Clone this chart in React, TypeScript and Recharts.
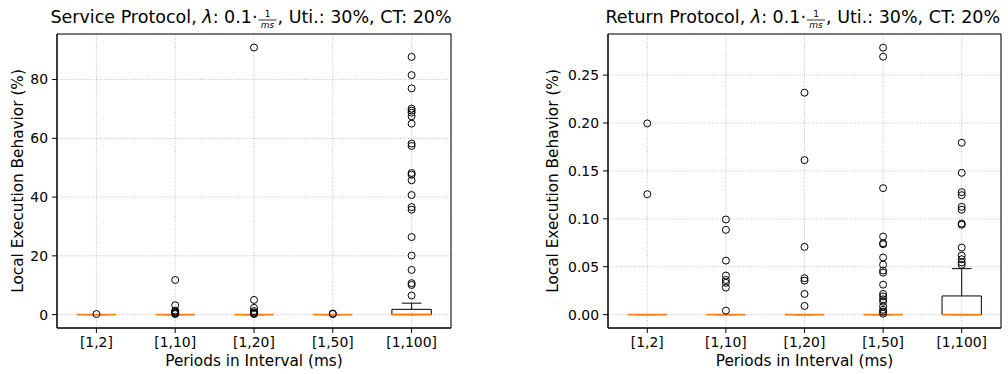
import React from 'react';
import {
  ComposedChart,
  Scatter,
  XAxis,
  YAxis,
  CartesianGrid,
  ReferenceArea,
  ReferenceLine,
  Label,
} from 'recharts';

const categories = ['[1,2]', '[1,10]', '[1,20]', '[1,50]', '[1,100]'];

// Service protocol boxes
const serviceQ1 = [0, 0, 0, 0, 0];
const serviceMedian = [0, 0, 0, 0, 0.1];
const serviceQ3 = [0, 0, 0, 0, 1.8];
const serviceLow = [0, 0, 0, 0, 0];
const serviceHigh = [0, 0, 0, 0, 3.9];
const serviceOutliers = [
  [0.2],
  [11.8, 3.2, 1.4, 1.0, 0.7, 0.4, 0.2],
  [90.9, 5.0, 2.3, 1.2, 0.7, 0.4, 0.2],
  [0.4, 0.2],
  [87.7, 81.5, 77.0, 70.1, 69.4, 68.7, 67.5, 65.0, 58.2, 57.4, 48.2, 47.6, 45.7, 40.7, 36.6, 35.7, 26.4, 20.1, 15.2, 10.7, 10.1, 6.5],
];

// Return protocol boxes
const returnQ1 = [0, 0, 0, 0, 0];
const returnMedian = [0, 0, 0, 0, 0];
const returnQ3 = [0, 0, 0, 0, 0.0195];
const returnLow = [0, 0, 0, 0, 0];
const returnHigh = [0, 0, 0, 0, 0.048];
const returnOutliers = [
  [0.1996, 0.1257],
  [0.0993, 0.0885, 0.0564, 0.0408, 0.0362, 0.0332, 0.0282, 0.0042],
  [0.2316, 0.1613, 0.0707, 0.038, 0.0355, 0.0216, 0.0091],
  [0.2786, 0.2692, 0.132, 0.0815, 0.0745, 0.0735, 0.0596, 0.0522, 0.046, 0.0438, 0.0313, 0.0216, 0.019, 0.016, 0.0135, 0.0085, 0.005, 0.003, 0.001],
  [0.1794, 0.148, 0.1278, 0.1247, 0.1125, 0.1095, 0.0951, 0.0938, 0.07, 0.0617, 0.0578, 0.0545, 0.052],
];

const serviceTicks = [0, 20, 40, 60, 80];
const returnTicks = [0, 0.05, 0.1, 0.15, 0.2, 0.25];

const FONT = 'DejaVu Sans, sans-serif';

type PanelProps = {
  q1: number[];
  med: number[];
  q3: number[];
  lo: number[];
  hi: number[];
  outliers: number[][];
  yDomain: [number, number];
  yTicks: number[];
  fmt: (v: number) => string;
  yAxisWidth: number;
  marginRight: number;
  labelDx: number;
};

const Circle = (props: any) => (
  <circle cx={props.cx} cy={props.cy} r={3.5} fill="none" stroke="#000" strokeWidth={1} />
);

function BoxPanel(p: PanelProps) {
  const points = p.outliers.flatMap((vals, i) => vals.map((v) => ({ x: i + 1, y: v })));
  return (
    <ComposedChart
      width={504}
      height={374}
      margin={{ top: 34, right: p.marginRight, bottom: 0, left: 0 }}
    >
      <CartesianGrid stroke="#b0b0b0" strokeDasharray="1 1.6" strokeWidth={0.8} />
      <XAxis
        dataKey="x"
        type="number"
        domain={[0.5, 5.5]}
        ticks={[1, 2, 3, 4, 5]}
        tickFormatter={(v: number) => categories[v - 1]}
        height={46}
        tickSize={5}
        tickMargin={4}
        stroke="#000"
        tick={{ fill: '#000', fontSize: 13.9, fontFamily: FONT }}
        allowDataOverflow
      >
        <Label
          value="Periods in Interval (ms)"
          position="insideBottom"
          offset={8}
          style={{ fill: '#000', fontSize: 15.3, fontFamily: FONT }}
        />
      </XAxis>
      <YAxis
        dataKey="y"
        type="number"
        domain={p.yDomain}
        ticks={p.yTicks}
        tickFormatter={p.fmt}
        width={p.yAxisWidth}
        tickSize={5}
        tickMargin={4}
        stroke="#000"
        tick={{ fill: '#000', fontSize: 13.9, fontFamily: FONT }}
        allowDataOverflow
      >
        <Label
          value="Local Execution Behavior (%)"
          angle={-90}
          position="center"
          dx={p.labelDx}
          style={{ textAnchor: 'middle', fill: '#000', fontSize: 15.3, fontFamily: FONT }}
        />
      </YAxis>
      {categories.map((c, i) => (
        <ReferenceLine
          key={'wl' + c}
          segment={[{ x: i + 1, y: p.lo[i] }, { x: i + 1, y: p.q1[i] }]}
          stroke="#000"
          strokeWidth={1}
        />
      ))}
      {categories.map((c, i) => (
        <ReferenceLine
          key={'wh' + c}
          segment={[{ x: i + 1, y: p.q3[i] }, { x: i + 1, y: p.hi[i] }]}
          stroke="#000"
          strokeWidth={1}
        />
      ))}
      {categories.map((c, i) => (
        <ReferenceLine
          key={'cl' + c}
          segment={[{ x: i + 0.875, y: p.lo[i] }, { x: i + 1.125, y: p.lo[i] }]}
          stroke="#000"
          strokeWidth={1}
        />
      ))}
      {categories.map((c, i) => (
        <ReferenceLine
          key={'ch' + c}
          segment={[{ x: i + 0.875, y: p.hi[i] }, { x: i + 1.125, y: p.hi[i] }]}
          stroke="#000"
          strokeWidth={1}
        />
      ))}
      {categories.map((c, i) => (
        <ReferenceArea
          key={'box' + c}
          x1={i + 0.75}
          x2={i + 1.25}
          y1={p.q1[i]}
          y2={p.q3[i]}
          fill="none"
          fillOpacity={0}
          stroke="#000"
          strokeWidth={1}
          strokeOpacity={1}
        />
      ))}
      {categories.map((c, i) => (
        <ReferenceLine
          key={'med' + c}
          segment={[{ x: i + 0.75, y: p.med[i] }, { x: i + 1.25, y: p.med[i] }]}
          stroke="#ff7f0e"
          strokeWidth={1.6}
        />
      ))}
      <ReferenceArea
        x1={0.5}
        x2={5.5}
        y1={p.yDomain[0]}
        y2={p.yDomain[1]}
        fill="none"
        fillOpacity={0}
        stroke="#000"
        strokeWidth={1}
        strokeOpacity={1}
      />
      <Scatter data={points} dataKey="y" shape={Circle} isAnimationActive={false} />
    </ComposedChart>
  );
}

// title with a small 1/ms fraction; fx is where the fraction sits
function Title({ name, fx }: { name: string; fx: number }) {
  return (
    <g fontFamily={FONT} fill="#000">
      <text x={fx - 10} y={22.7} fontSize={17.5} textAnchor="end">
        {name} Protocol, <tspan fontStyle="italic">λ</tspan>: 0.1·
      </text>
      <text x={fx} y={17.2} fontSize={9} textAnchor="middle">
        1
      </text>
      <line x1={fx - 9} x2={fx + 9} y1={20} y2={20} stroke="#000" strokeWidth={0.8} />
      <text x={fx} y={27.9} fontSize={9} fontStyle="italic" textAnchor="middle">
        ms
      </text>
      <text x={fx + 10} y={22.7} fontSize={17.5} textAnchor="start">
        , Uti.: 30%, CT: 20%
      </text>
    </g>
  );
}

export default function App() {
  return (
    <div
      style={{
        position: 'absolute',
        left: 0,
        top: 0,
        width: 1008,
        height: 374,
        background: '#fff',
        overflow: 'hidden',
      }}
    >
      <div style={{ position: 'absolute', left: 0, top: 0 }}>
        <BoxPanel
          q1={serviceQ1}
          med={serviceMedian}
          q3={serviceQ3}
          lo={serviceLow}
          hi={serviceHigh}
          outliers={serviceOutliers}
          yDomain={[-4.55, 95.5]}
          yTicks={serviceTicks}
          fmt={(v: number) => String(v)}
          yAxisWidth={57}
          marginRight={53}
          labelDx={-10.5}
        />
      </div>
      <div style={{ position: 'absolute', left: 504, top: 0 }}>
        <BoxPanel
          q1={returnQ1}
          med={returnMedian}
          q3={returnQ3}
          lo={returnLow}
          hi={returnHigh}
          outliers={returnOutliers}
          yDomain={[-0.01395, 0.2929]}
          yTicks={returnTicks}
          fmt={(v: number) => v.toFixed(2)}
          yAxisWidth={104}
          marginRight={7}
          labelDx={-3}
        />
      </div>
      <svg
        width={1008}
        height={34}
        style={{ position: 'absolute', left: 0, top: 0, overflow: 'visible' }}
      >
        <Title name="Service" fx={267.5} />
        <Title name="Return" fx={816} />
      </svg>
    </div>
  );
}
